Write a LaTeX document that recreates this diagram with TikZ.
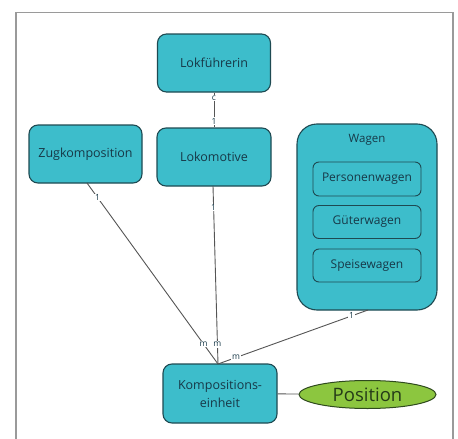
\documentclass[tikz,border=0pt]{standalone}
\usepackage{fontspec}
\setmainfont{Open Sans}
\usetikzlibrary{shapes.geometric}
\definecolor{boxfill}{HTML}{3DBDCB}
\definecolor{boxline}{HTML}{1E4A52}
\definecolor{boxtext}{HTML}{173847}
\definecolor{attrfill}{HTML}{8CC63F}
\definecolor{attrline}{HTML}{2F4A1E}
\definecolor{linkcol}{HTML}{555555}
\definecolor{framecol}{HTML}{9A9A9A}
\begin{document}
\begin{tikzpicture}[x=1pt,y=-1pt,
  entity/.style={draw=boxline,fill=boxfill,line width=1.1pt,rounded corners=9pt,
    text=boxtext,font=\fontsize{12.5}{14}\selectfont,align=center,inner sep=0pt},
  subentity/.style={draw=boxline,fill=boxfill,line width=0.9pt,rounded corners=6pt,
    text=boxtext,font=\fontsize{12}{14}\selectfont,inner sep=0pt},
  attr/.style={ellipse,draw=attrline,fill=attrfill,line width=1pt,
    text=attrline!80!black,font=\fontsize{18.5}{20}\selectfont,inner sep=0pt},
  link/.style={draw=linkcol,line width=0.9pt},
  card/.style={fill=white,inner sep=0.8pt,text=boxtext,font=\fontsize{8.5}{9}\selectfont}]
\useasboundingbox (0,0) rectangle (458,439);
% outer frame
\draw[framecol,line width=1.1pt] (16,460) -- (16,12.5) -- (453,12.5) -- (453,460);

% entities
\node[entity,minimum width=113pt,minimum height=58pt] (lokf) at (214,63) {Lokführerin};
\node[entity,minimum width=114pt,minimum height=58pt] (loko) at (214,157) {Lokomotive};
\node[entity,minimum width=113pt,minimum height=58pt] (zug) at (85.5,154) {Zugkomposition};
\node[draw=boxline,fill=boxfill,line width=1.1pt,rounded corners=20pt,
  minimum width=140pt,minimum height=186pt,inner sep=0pt] (wagen) at (367,217) {};
\node[text=boxtext,font=\fontsize{11.5}{13}\selectfont] (wagenlbl) at (367,140) {Wagen};
\node[subentity,minimum width=108pt,minimum height=34pt] (pers) at (367,179) {Personenwagen};
\node[subentity,minimum width=108pt,minimum height=33pt] (gueter) at (367,222) {Güterwagen};
\node[subentity,minimum width=108pt,minimum height=33pt] (speise) at (367,265.5) {Speisewagen};
\node[entity,minimum width=114pt,minimum height=59pt,font=\fontsize{12.5}{18}\selectfont] (komp) at (220,393.5) {Kompositions-\\einheit};
\node[attr,minimum width=137pt,minimum height=28pt] (pos) at (367.5,394.5) {Position};

% connection points
\coordinate (join) at (218,364);
\coordinate (zugout) at (87,183);
\coordinate (lokoout) at (213,186);
\coordinate (wagenout) at (368,310);

% relationships
\draw[link] (lokf) -- (loko)
  node[card,pos=0.15] {c} node[card,pos=0.82] {1};
\draw[link] (zugout) -- (join)
  node[card,pos=0.08] {1} node[card,pos=0.89] {m};
\draw[link] (lokoout) -- (join)
  node[card,pos=0.12] {1} node[card,pos=0.89] {m};
\draw[link] (wagenout) -- (join)
  node[card,pos=0.11] {1} node[card,pos=0.88] {m};
\draw[link] (komp) -- (pos);
\end{tikzpicture}
\end{document}
